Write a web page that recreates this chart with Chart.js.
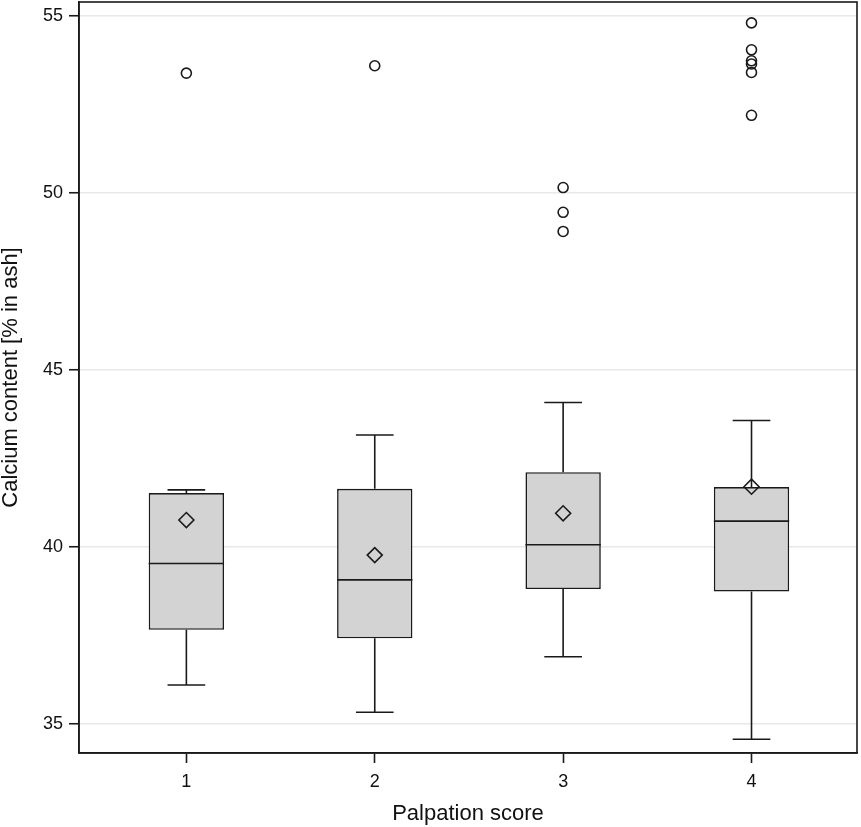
<!DOCTYPE html>
<html>
<head>
<meta charset="utf-8">
<script src="https://cdn.jsdelivr.net/npm/chart.js@4/dist/chart.umd.min.js"></script>
<style>
  body { margin: 0; background: #fff; }
  #wrap { width: 861px; height: 827px; }
</style>
</head>
<body>
<div id="wrap"><canvas id="box-chart"></canvas></div>
<script>
// Valeurs
const scores = [1, 2, 3, 4];
const lowWhisker = [36.10, 35.33, 36.90, 34.57];
const q1 = [37.66, 37.42, 38.81, 38.74];
const median = [39.53, 39.07, 40.06, 40.73];
const q3 = [41.52, 41.64, 42.11, 41.69];
const highWhisker = [41.61, 43.16, 44.08, 43.57];
const means = [40.76, 39.77, 40.95, 41.70];
const outlierScore = [1, 2, 3, 3, 3, 4, 4, 4, 4, 4, 4];
const outlierValue = [53.38, 53.59, 50.15, 49.45, 48.91, 54.80, 54.04, 53.73, 53.64, 53.40, 52.19];

Chart.defaults.font.family = '"Liberation Sans", Arial, sans-serif';
Chart.defaults.color = '#111';

const ink = '#1a1a1a';

// Segments: moustaches, bouts de moustache et médianes
const segments = [];
scores.forEach((s, i) => {
  segments.push({x: s, y: lowWhisker[i]}, {x: s, y: q1[i]}, {x: s, y: null});
  segments.push({x: s, y: q3[i]}, {x: s, y: highWhisker[i]}, {x: s, y: null});
  segments.push({x: s - 0.1, y: lowWhisker[i]}, {x: s + 0.1, y: lowWhisker[i]}, {x: s, y: null});
  segments.push({x: s - 0.1, y: highWhisker[i]}, {x: s + 0.1, y: highWhisker[i]}, {x: s, y: null});
  segments.push({x: s - 0.2, y: median[i]}, {x: s + 0.2, y: median[i]}, {x: s, y: null});
});

// Cadre complet autour de la zone du graphe
const framePlugin = {
  id: 'frame',
  afterDraw(chart) {
    const {ctx, chartArea: a} = chart;
    ctx.save();
    ctx.strokeStyle = ink;
    ctx.lineWidth = 1.6;
    ctx.strokeRect(a.left, a.top, a.right - a.left, a.bottom - a.top);
    ctx.restore();
  }
};

const ctx_box = document.getElementById("box-chart").getContext("2d");
new Chart(ctx_box, {
  data: {
    datasets: [
      {
        type: "scatter",
        label: "Mean",
        data: scores.map((s, i) => ({x: s, y: means[i]})),
        pointStyle: "rectRot",
        pointRadius: 7.5,
        pointBackgroundColor: "transparent",
        pointBorderColor: ink,
        pointBorderWidth: 1.6,
        order: 1
      },
      {
        type: "scatter",
        label: "Outliers",
        data: outlierScore.map((s, i) => ({x: s, y: outlierValue[i]})),
        pointStyle: "circle",
        pointRadius: 5,
        pointBackgroundColor: "transparent",
        pointBorderColor: ink,
        pointBorderWidth: 1.6,
        order: 1
      },
      {
        type: "line",
        label: "Whiskers",
        data: segments,
        borderColor: ink,
        borderWidth: 1.6,
        pointRadius: 0,
        spanGaps: false,
        fill: false,
        order: 2
      },
      {
        type: "bar",
        label: "Box",
        data: scores.map((s, i) => ({x: s, y: [q1[i], q3[i]]})),
        backgroundColor: "#d3d3d3",
        borderColor: ink,
        borderWidth: 1.6,
        borderSkipped: false,
        categoryPercentage: 1,
        barPercentage: 0.4,
        order: 3
      }
    ]
  },
  options: {
    responsive: true,
    maintainAspectRatio: false,
    animation: false,
    layout: { autoPadding: false, padding: { top: 2, right: 4, left: 0, bottom: 0 } },
    plugins: { legend: { display: false }, tooltip: { enabled: false } },
    scales: {
      x: {
        type: "linear",
        min: 0.43,
        max: 4.56,
        offset: false,
        afterFit: (scale) => { scale.height = 74; scale.paddingLeft = 0; scale.paddingRight = 0; },
        grid: { offset: false, drawOnChartArea: false, tickLength: 10, tickColor: ink, tickWidth: 1.6 },
        border: { color: ink, width: 1.6 },
        ticks: { stepSize: 1, includeBounds: false, padding: 8, font: { size: 18 }, color: '#111' },
        title: { display: true, text: "Palpation score", font: { size: 22, lineHeight: 1 }, padding: { top: 0, bottom: 2 }, color: '#111' }
      },
      y: {
        type: "linear",
        min: 34.18,
        max: 55.39,
        afterFit: (scale) => { scale.width = 79; scale.paddingTop = 0; scale.paddingBottom = 0; },
        grid: { color: "#e8e8e8", lineWidth: 1.5, tickLength: 10, tickColor: ink, tickWidth: 1.6 },
        border: { color: ink, width: 1.6 },
        ticks: { stepSize: 5, includeBounds: false, padding: 6, font: { size: 18 }, color: '#111' },
        title: { display: true, text: "Calcium content [% in ash]", font: { size: 22, lineHeight: 1 }, padding: { top: 0, bottom: 0 }, color: '#111' }
      }
    }
  },
  plugins: [framePlugin]
});
</script>
</body>
</html>
